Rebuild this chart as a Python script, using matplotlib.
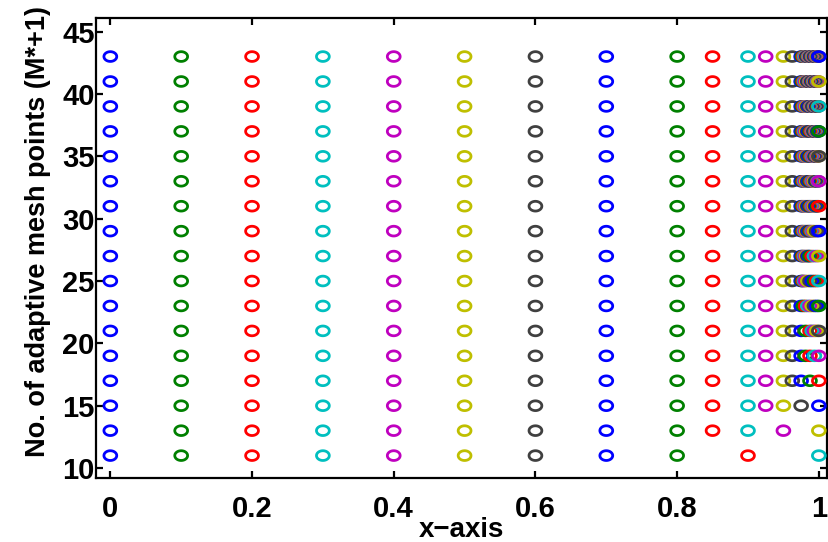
import matplotlib

matplotlib.use("Agg")
import matplotlib.pyplot as plt
import numpy as np
from matplotlib.path import Path

# number of mesh points per row (M*+1)
m_values = [11, 13, 15, 17, 19, 21, 23, 25, 27, 29, 31, 33, 35, 37, 39, 41, 43]

# points shared by every mesh, plus the tail of the coarsest one
coarse_x = [0.0, 0.1, 0.2, 0.3, 0.4, 0.5, 0.6, 0.7, 0.8]
first_tail = [0.9, 1.0]

# two points added at each refinement step (rows 13 ... 43)
added_x = [
    [0.85, 0.95],
    [0.925, 0.975],
    [0.9625, 0.9875],
    [0.98125, 0.99375],
    [0.990625, 0.996875],
    [0.978125, 0.984375],
    [0.9765625, 0.9796875],
    [0.9828125, 0.9859375],
    [0.9890625, 0.9921875],
    [0.9953125, 0.9984375],
    [0.99921875, 0.99765625],
    [0.99609375, 0.99453125],
    [0.99296875, 0.99140625],
    [0.98984375, 0.98828125],
    [0.98671875, 0.98515625],
    [0.98359375, 0.98203125],
]

x_ticks = [0, 0.2, 0.4, 0.6, 0.8, 1]
x_tick_labels = ["0", "0.2", "0.4", "0.6", "0.8", "1"]
y_ticks = [10, 15, 20, 25, 30, 35, 40, 45]

# old MATLAB colour order b g r c m y k
color_order = [
    (0, 0, 1),
    (0, 0.5, 0),
    (1, 0, 0),
    (0, 0.75, 0.75),
    (0.75, 0, 0.75),
    (0.75, 0.75, 0),
    (0.25, 0.25, 0.25),
]

plt.rcParams["font.family"] = ["Liberation Sans", "DejaVu Sans"]
plt.rcParams["font.weight"] = "bold"

# slightly flattened ring marker
theta = np.linspace(0, 2 * np.pi, 60)
ring = Path(np.column_stack([np.cos(theta), 0.76 * np.sin(theta)]), closed=True)

fig = plt.figure(figsize=(8.29, 5.42), dpi=100)
ax = fig.add_axes([0.116, 0.118, 0.882, 0.849])

points = list(coarse_x) + list(first_tail)
for row, m in enumerate(m_values):
    if row > 0:
        points = points + added_x[row - 1]
    xs = np.sort(points)
    colors = [color_order[i % len(color_order)] for i in range(len(xs))]
    ax.scatter(xs, np.full(len(xs), m), s=85, marker=ring,
               facecolors="none", edgecolors=colors, linewidths=2.0, zorder=3)

ax.set_xlim(-0.02, 1.012)
ax.set_ylim(9.2, 46.1)
ax.set_xticks(x_ticks)
ax.set_xticklabels(x_tick_labels)
ax.set_yticks(y_ticks)
ax.tick_params(direction="in", length=5, width=1.6, top=True, right=True,
               labelsize=21)
ax.tick_params(axis="x", pad=12)
ax.tick_params(axis="y", pad=1)
for spine in ax.spines.values():
    spine.set_linewidth(1.6)

ax.set_xlabel("x\u2212axis", fontsize=20, fontweight="bold")
ax.xaxis.set_label_coords(0.5, -0.085)
ax.set_ylabel("No. of adaptive mesh points (M*+1)", fontsize=19.5,
              fontweight="bold")
ax.yaxis.set_label_coords(-0.062, 0.535)

fig.savefig("out.png", dpi=100)
